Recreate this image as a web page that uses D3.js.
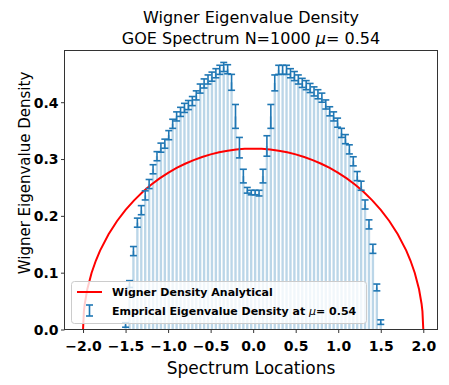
<!DOCTYPE html>
<html><head><meta charset="utf-8">
<script src="https://cdn.jsdelivr.net/npm/d3@7/dist/d3.min.js"></script>
<style>body{margin:0;background:#fff}svg{display:block}text{font-family:"DejaVu Sans",sans-serif}</style>
</head><body><svg id="c" width="449" height="385"></svg>
<script>
// bin centers (spectrum locations)
const binCenters = [-1.5,-1.4538,-1.4077,-1.3615,-1.3154,-1.2692,-1.2231,-1.1769,-1.1308,-1.0846,-1.0385,-0.9923,-0.9462,-0.9,-0.8538,-0.8077,-0.7615,-0.7154,-0.6692,-0.6231,-0.5769,-0.5308,-0.4846,-0.4385,-0.3923,-0.3462,-0.3,-0.2538,-0.2077,-0.1615,-0.1154,-0.0692,-0.0231,
0.0231,0.0692,0.1154,0.1615,0.2077,0.2538,0.3,0.3462,0.3923,0.4385,0.4846,0.5308,0.5769,0.6231,0.6692,0.7154,0.7615,0.8077,0.8538,0.9,0.9462,0.9923,1.0385,1.0846,1.1308,1.1769,1.2231,1.2692,1.3154,1.3615,1.4077,1.4538,1.5];
// empirical density per bin
const density = [0.008,0.08,0.138,0.188,0.21,0.236,0.256,0.282,0.305,0.32,0.327,0.342,0.362,0.375,0.383,0.39,0.395,0.402,0.412,0.424,0.433,0.44,0.445,0.451,0.457,0.462,0.458,0.435,0.375,0.32,0.27,0.245,0.241,
0.241,0.24,0.27,0.323,0.375,0.434,0.457,0.457,0.457,0.451,0.446,0.44,0.434,0.43,0.425,0.419,0.414,0.408,0.396,0.384,0.375,0.364,0.346,0.335,0.317,0.296,0.27,0.253,0.22,0.185,0.142,0.074,0.013];
// error (half-length) per bin
const densityErr = [0.004,0.006,0.008,0.008,0.008,0.008,0.008,0.008,0.008,0.008,0.008,0.008,0.008,0.008,0.008,0.008,0.008,0.008,0.008,0.008,0.008,0.008,0.008,0.008,0.008,0.008,0.008,0.014,0.021,0.018,0.012,0.005,0.004,
0.004,0.005,0.012,0.018,0.021,0.014,0.008,0.008,0.008,0.008,0.008,0.008,0.008,0.008,0.008,0.008,0.008,0.008,0.008,0.008,0.008,0.008,0.008,0.008,0.008,0.008,0.008,0.008,0.008,0.008,0.008,0.006,0.004];
// analytical Wigner semicircle samples
const curveX = [-2,-1.99,-1.98,-1.95,-1.9,-1.85,-1.8,-1.7,-1.6,-1.5,-1.4,-1.3,-1.2,-1.1,-1,-0.9,-0.8,-0.7,-0.6,-0.5,-0.4,-0.3,-0.2,-0.1,0,0.1,0.2,0.3,0.4,0.5,0.6,0.7,0.8,0.9,1,1.1,1.2,1.3,1.4,1.5,1.6,1.7,1.8,1.85,1.9,1.95,1.98,1.99,2];
const curveY = [0,0.03179,0.0449,0.07073,0.09939,0.12095,0.13875,0.16768,0.19099,0.21054,0.22732,0.24189,0.25465,0.26584,0.27566,0.28426,0.29173,0.29818,0.30365,0.3082,0.31188,0.31471,0.31671,0.31791,0.3183,0.31791,0.31671,0.31471,0.31188,0.3082,0.30365,0.29818,0.29173,0.28426,0.27566,0.26584,0.25465,0.24189,0.22732,0.21054,0.19099,0.16768,0.13875,0.12095,0.09939,0.07073,0.0449,0.03179,0];
const xTicks = [-2.0,-1.5,-1.0,-0.5,0.0,0.5,1.0,1.5,2.0];
const yTicks = [0.0,0.1,0.2,0.3,0.4];

const L=64.5,R=437.5,T=50.5,B=329.5;
const svg=d3.select("#c");
const x=d3.scaleLinear().domain([-2.218,2.167]).range([L,R]);
const y=d3.scaleLinear().domain([0,0.491]).range([B,T]);
const binW=Math.abs(binCenters[1]-binCenters[0]);

// bars
svg.append("g").selectAll("rect").data(binCenters).join("rect")
  .attr("x",(d)=>x(d-binW*0.3)).attr("width",x(binW*0.6)-x(0))
  .attr("y",(d,i)=>y(density[i])).attr("height",(d,i)=>B-y(density[i]))
  .attr("fill","#1f77b4").attr("fill-opacity",0.3);

// red curve
svg.append("path").datum(curveX).attr("fill","none").attr("stroke","red").attr("stroke-width",2)
  .attr("d",d3.line().x(d=>x(d)).y((d,i)=>y(curveY[i])));

// error bars
const eb=svg.append("g").attr("stroke","#1f77b4").attr("stroke-width",1.6);
binCenters.forEach((c,i)=>{
  const cx=x(c),y1=y(density[i]-densityErr[i]),y2=y(density[i]+densityErr[i]);
  eb.append("line").attr("x1",cx).attr("x2",cx).attr("y1",y1).attr("y2",y2);
  eb.append("line").attr("x1",cx-3.5).attr("x2",cx+3.5).attr("y1",y1).attr("y2",y1);
  eb.append("line").attr("x1",cx-3.5).attr("x2",cx+3.5).attr("y1",y2).attr("y2",y2);
});

// axes
const ax=svg.append("g").attr("transform",`translate(0,${B})`).call(d3.axisBottom(x).tickValues(xTicks).tickFormat(d3.format(".1f")).tickSize(3.5).tickSizeOuter(0));
const ay=svg.append("g").attr("transform",`translate(${L},0)`).call(d3.axisLeft(y).tickValues(yTicks).tickFormat(d3.format(".1f")).tickSize(3.5).tickSizeOuter(0));
[ax,ay].forEach(g=>{g.select(".domain").remove();g.selectAll("text").attr("font-size",14).attr("font-weight","bold").attr("fill","#000").style("font-family","DejaVu Sans");g.selectAll("line").attr("stroke","#333");});
ax.selectAll("text").attr("dy","1.05em");
ay.selectAll("text").attr("dy","0.35em").attr("x",-6);
svg.append("rect").attr("x",L).attr("y",T).attr("width",R-L).attr("height",B-T).attr("fill","none").attr("stroke","#333").attr("stroke-width",1);

// legend
const lg=svg.append("g");
lg.append("rect").attr("x",71.5).attr("y",281.5).attr("width",295).attr("height",42).attr("rx",3)
  .attr("fill","#fff").attr("fill-opacity",0.8).attr("stroke","#ccc");
lg.append("line").attr("x1",77).attr("x2",102).attr("y1",292).attr("y2",292).attr("stroke","red").attr("stroke-width",2);
lg.append("text").attr("x",112).attr("y",296).attr("font-size",11).attr("font-weight","bold").text("Wigner Density Analytical");
const li=lg.append("g").attr("stroke","#1f77b4").attr("stroke-width",1.6);
li.append("line").attr("x1",89.5).attr("x2",89.5).attr("y1",305).attr("y2",316);
li.append("line").attr("x1",86).attr("x2",93).attr("y1",305).attr("y2",305);
li.append("line").attr("x1",86).attr("x2",93).attr("y1",316).attr("y2",316);
const t2=lg.append("text").attr("x",112).attr("y",315).attr("font-size",11).attr("font-weight","bold");
t2.append("tspan").text("Emprical Eigenvalue Density at ");
t2.append("tspan").attr("font-style","italic").attr("font-weight","normal").text("μ");
t2.append("tspan").text("= 0.54");

// titles
svg.append("text").attr("x",(L+R)/2).attr("y",23).attr("text-anchor","middle").attr("font-size",16).text("Wigner Eigenvalue Density");
const tt=svg.append("text").attr("x",(L+R)/2).attr("y",44).attr("text-anchor","middle").attr("font-size",16);
tt.append("tspan").text("GOE Spectrum N=1000 ");
tt.append("tspan").attr("font-style","italic").text("μ");
tt.append("tspan").text("= 0.54");
svg.append("text").attr("x",(L+R)/2).attr("y",374).attr("text-anchor","middle").attr("font-size",17).text("Spectrum Locations");
svg.append("text").attr("transform","translate(29.5,173) rotate(-90)").attr("text-anchor","middle").attr("font-size",15).text("Wigner Eigenvalue Density");
</script></body></html>
